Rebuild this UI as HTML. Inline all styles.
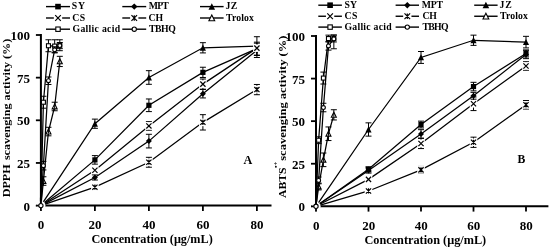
<!DOCTYPE html>
<html><head><meta charset="utf-8"><style>
html,body{margin:0;padding:0;background:#fff;width:550px;height:247px;overflow:hidden}
svg{display:block;filter:grayscale(1)}
.t{font-family:"Liberation Serif", serif;font-weight:bold;fill:#000}
</style></head><body>
<svg width="550" height="247" viewBox="0 0 550 247">
<rect width="550" height="247" fill="#fff"/>
<path d="M40.9 34V205.6H271.5" stroke="#000" stroke-width="2" fill="none"/>
<path d="M35.9 205.6H40.9" stroke="#000" stroke-width="1.8"/>
<text x="29.9" y="210.7" class="t" font-size="13" text-anchor="end">0</text>
<path d="M35.9 162.95H40.9" stroke="#000" stroke-width="1.8"/>
<text x="29.9" y="168.05" class="t" font-size="13" text-anchor="end">25</text>
<path d="M35.9 120.3H40.9" stroke="#000" stroke-width="1.8"/>
<text x="29.9" y="125.4" class="t" font-size="13" text-anchor="end">50</text>
<path d="M35.9 77.65H40.9" stroke="#000" stroke-width="1.8"/>
<text x="29.9" y="82.75" class="t" font-size="13" text-anchor="end">75</text>
<path d="M35.9 35H40.9" stroke="#000" stroke-width="1.8"/>
<text x="29.9" y="40.1" class="t" font-size="13" text-anchor="end">100</text>
<path d="M40.9 205.6V210.9" stroke="#000" stroke-width="1.8"/>
<text x="41.1" y="229.2" class="t" font-size="13" text-anchor="middle">0</text>
<path d="M94.9 205.6V210.9" stroke="#000" stroke-width="1.8"/>
<text x="95.1" y="229.2" class="t" font-size="13" text-anchor="middle">20</text>
<path d="M148.9 205.6V210.9" stroke="#000" stroke-width="1.8"/>
<text x="149.1" y="229.2" class="t" font-size="13" text-anchor="middle">40</text>
<path d="M202.9 205.6V210.9" stroke="#000" stroke-width="1.8"/>
<text x="203.1" y="229.2" class="t" font-size="13" text-anchor="middle">60</text>
<path d="M256.9 205.6V210.9" stroke="#000" stroke-width="1.8"/>
<text x="257.1" y="229.2" class="t" font-size="13" text-anchor="middle">80</text>
<path d="M40.9 205.6L94.9 159.88L148.9 105.29L202.9 72.36L256.9 48.65" stroke="#000" stroke-width="1.25" fill="none"/>
<path d="M94.9 155.61V164.14M91.9 155.61H97.9M91.9 164.14H97.9" stroke="#000" stroke-width="1" fill="none"/>
<path d="M148.9 98.97V111.6M145.9 98.97H151.9M145.9 111.6H151.9" stroke="#000" stroke-width="1" fill="none"/>
<path d="M202.9 67.24V77.48M199.9 67.24H205.9M199.9 77.48H205.9" stroke="#000" stroke-width="1" fill="none"/>
<path d="M256.9 42.17V55.13M253.9 42.17H259.9M253.9 55.13H259.9" stroke="#000" stroke-width="1" fill="none"/>
<rect x="92.3" y="157.28" width="5.2" height="5.2" fill="#000"/>
<rect x="146.3" y="102.69" width="5.2" height="5.2" fill="#000"/>
<rect x="200.3" y="69.76" width="5.2" height="5.2" fill="#000"/>
<rect x="254.3" y="46.05" width="5.2" height="5.2" fill="#000"/>
<path d="M40.9 205.6L94.9 177.45L148.9 141.11L202.9 93.69L256.9 50.35" stroke="#000" stroke-width="1.25" fill="none"/>
<path d="M94.9 174.89V180.01M91.9 174.89H97.9M91.9 180.01H97.9" stroke="#000" stroke-width="1" fill="none"/>
<path d="M148.9 134.29V147.94M145.9 134.29H151.9M145.9 147.94H151.9" stroke="#000" stroke-width="1" fill="none"/>
<path d="M202.9 89.42V97.95M199.9 89.42H205.9M199.9 97.95H205.9" stroke="#000" stroke-width="1" fill="none"/>
<path d="M256.9 43.19V57.52M253.9 43.19H259.9M253.9 57.52H259.9" stroke="#000" stroke-width="1" fill="none"/>
<path d="M94.9 174.46L97.89 177.45L94.9 180.44L91.91 177.45Z" fill="#000"/>
<path d="M148.9 138.12L151.89 141.11L148.9 144.1L145.91 141.11Z" fill="#000"/>
<path d="M202.9 90.7L205.89 93.69L202.9 96.68L199.91 93.69Z" fill="#000"/>
<path d="M256.9 47.36L259.89 50.35L256.9 53.34L253.91 50.35Z" fill="#000"/>
<path d="M40.9 205.6L94.9 123.71L148.9 77.48L202.9 47.79L256.9 46.09" stroke="#000" stroke-width="1.25" fill="none"/>
<path d="M94.9 119.11V128.32M91.9 119.11H97.9M91.9 128.32H97.9" stroke="#000" stroke-width="1" fill="none"/>
<path d="M148.9 70.66V84.3M145.9 70.66H151.9M145.9 84.3H151.9" stroke="#000" stroke-width="1" fill="none"/>
<path d="M202.9 42.68V52.91M199.9 42.68H205.9M199.9 52.91H205.9" stroke="#000" stroke-width="1" fill="none"/>
<path d="M256.9 36.71V55.47M253.9 36.71H259.9M253.9 55.47H259.9" stroke="#000" stroke-width="1" fill="none"/>
<path d="M94.9 120.49L97.97 126.63L91.83 126.63Z" fill="#000"/>
<path d="M148.9 74.26L151.97 80.39L145.83 80.39Z" fill="#000"/>
<path d="M202.9 44.57L205.97 50.71L199.83 50.71Z" fill="#000"/>
<path d="M256.9 42.87L259.97 49L253.83 49Z" fill="#000"/>
<path d="M40.9 205.6L94.9 170.29L148.9 125.93L202.9 84.13L256.9 48.14" stroke="#000" stroke-width="1.25" fill="none"/>
<path d="M94.9 167.73V172.84M91.9 167.73H97.9M91.9 172.84H97.9" stroke="#000" stroke-width="1" fill="none"/>
<path d="M148.9 121.66V130.19M145.9 121.66H151.9M145.9 130.19H151.9" stroke="#000" stroke-width="1" fill="none"/>
<path d="M202.9 79.01V89.25M199.9 79.01H205.9M199.9 89.25H205.9" stroke="#000" stroke-width="1" fill="none"/>
<rect x="91.1" y="166.49" width="7.6" height="7.6" fill="#fff"/>
<rect x="145.1" y="122.13" width="7.6" height="7.6" fill="#fff"/>
<rect x="199.1" y="80.33" width="7.6" height="7.6" fill="#fff"/>
<rect x="253.1" y="44.34" width="7.6" height="7.6" fill="#fff"/>
<path d="M92.3 167.69L97.5 172.89M97.5 167.69L92.3 172.89" stroke="#000" stroke-width="1.2" fill="none"/>
<path d="M146.3 123.33L151.5 128.53M151.5 123.33L146.3 128.53" stroke="#000" stroke-width="1.2" fill="none"/>
<path d="M200.3 81.53L205.5 86.73M205.5 81.53L200.3 86.73" stroke="#000" stroke-width="1.2" fill="none"/>
<path d="M254.3 45.54L259.5 50.74M259.5 45.54L254.3 50.74" stroke="#000" stroke-width="1.2" fill="none"/>
<path d="M40.9 205.6L94.9 187.18L148.9 162.27L202.9 122.35L256.9 89.59" stroke="#000" stroke-width="1.25" fill="none"/>
<path d="M94.9 184.62V189.73M91.9 184.62H97.9M91.9 189.73H97.9" stroke="#000" stroke-width="1" fill="none"/>
<path d="M148.9 157.32V167.22M145.9 157.32H151.9M145.9 167.22H151.9" stroke="#000" stroke-width="1" fill="none"/>
<path d="M202.9 114.67V130.02M199.9 114.67H205.9M199.9 130.02H205.9" stroke="#000" stroke-width="1" fill="none"/>
<path d="M256.9 84.47V94.71M253.9 84.47H259.9M253.9 94.71H259.9" stroke="#000" stroke-width="1" fill="none"/>
<rect x="91.1" y="183.38" width="7.6" height="7.6" fill="#fff"/>
<rect x="145.1" y="158.47" width="7.6" height="7.6" fill="#fff"/>
<rect x="199.1" y="118.55" width="7.6" height="7.6" fill="#fff"/>
<rect x="253.1" y="85.79" width="7.6" height="7.6" fill="#fff"/>
<path d="M92.3 184.58L97.5 189.78M97.5 184.58L92.3 189.78M94.9 184.58L94.9 189.78" stroke="#000" stroke-width="1.2" fill="none"/>
<path d="M146.3 159.67L151.5 164.87M151.5 159.67L146.3 164.87M148.9 159.67L148.9 164.87" stroke="#000" stroke-width="1.2" fill="none"/>
<path d="M200.3 119.75L205.5 124.95M205.5 119.75L200.3 124.95M202.9 119.75L202.9 124.95" stroke="#000" stroke-width="1.2" fill="none"/>
<path d="M254.3 86.99L259.5 92.19M259.5 86.99L254.3 92.19M256.9 86.99L256.9 92.19" stroke="#000" stroke-width="1.2" fill="none"/>
<path d="M40.9 205.6L43.41 181.03L48.46 131.56L54.67 106.48L59.8 61.44" stroke="#000" stroke-width="1.25" fill="none"/>
<path d="M43.41 176.77V185.3M40.41 176.77H46.41M40.41 185.3H46.41" stroke="#000" stroke-width="1" fill="none"/>
<path d="M48.46 127.29V135.82M45.46 127.29H51.46M45.46 135.82H51.46" stroke="#000" stroke-width="1" fill="none"/>
<path d="M54.67 102.22V110.75M51.67 102.22H57.67M51.67 110.75H57.67" stroke="#000" stroke-width="1" fill="none"/>
<path d="M59.8 56.32V66.56M56.8 56.32H62.8M56.8 66.56H62.8" stroke="#000" stroke-width="1" fill="none"/>
<path d="M43.41 178.42L45.9 183.4L40.92 183.4Z" fill="#fff" stroke="#000" stroke-width="1.1" stroke-linejoin="miter"/>
<path d="M48.46 128.94L50.95 133.93L45.97 133.93Z" fill="#fff" stroke="#000" stroke-width="1.1" stroke-linejoin="miter"/>
<path d="M54.67 103.87L57.16 108.85L52.18 108.85Z" fill="#fff" stroke="#000" stroke-width="1.1" stroke-linejoin="miter"/>
<path d="M59.8 58.83L62.29 63.81L57.31 63.81Z" fill="#fff" stroke="#000" stroke-width="1.1" stroke-linejoin="miter"/>
<path d="M43.41 179.03V183.03" stroke="#000" stroke-width="1"/>
<path d="M48.46 129.56V133.56" stroke="#000" stroke-width="1"/>
<path d="M54.67 104.48V108.48" stroke="#000" stroke-width="1"/>
<path d="M59.8 59.44V63.44" stroke="#000" stroke-width="1"/>
<path d="M40.9 205.6L43.41 102.22L48.46 45.75L54.67 46.09L59.8 45.24" stroke="#000" stroke-width="1.25" fill="none"/>
<path d="M43.41 96.25V108.19M40.41 96.25H46.41M40.41 108.19H46.41" stroke="#000" stroke-width="1" fill="none"/>
<path d="M48.46 39.78V51.72M45.46 39.78H51.46M45.46 51.72H51.46" stroke="#000" stroke-width="1" fill="none"/>
<path d="M54.67 39.78V52.4M51.67 39.78H57.67M51.67 52.4H57.67" stroke="#000" stroke-width="1" fill="none"/>
<path d="M59.8 39.78V50.7M56.8 39.78H62.8M56.8 50.7H62.8" stroke="#000" stroke-width="1" fill="none"/>
<rect x="41.41" y="100.22" width="4" height="4" fill="#fff" stroke="#000" stroke-width="1.1"/>
<rect x="46.46" y="43.75" width="4" height="4" fill="#fff" stroke="#000" stroke-width="1.1"/>
<rect x="52.67" y="44.09" width="4" height="4" fill="#fff" stroke="#000" stroke-width="1.1"/>
<rect x="57.8" y="43.24" width="4" height="4" fill="#fff" stroke="#000" stroke-width="1.1"/>
<path d="M40.9 205.6L43.41 165.68L48.46 80.72L54.67 49.84L59.8 45.58" stroke="#000" stroke-width="1.25" fill="none"/>
<path d="M43.41 161.41V169.94M40.41 161.41H46.41M40.41 169.94H46.41" stroke="#000" stroke-width="1" fill="none"/>
<path d="M48.46 76.97V84.47M45.46 76.97H51.46M45.46 84.47H51.46" stroke="#000" stroke-width="1" fill="none"/>
<path d="M54.67 46.77V52.91M51.67 46.77H57.67M51.67 52.91H57.67" stroke="#000" stroke-width="1" fill="none"/>
<path d="M59.8 42.51V48.65M56.8 42.51H62.8M56.8 48.65H62.8" stroke="#000" stroke-width="1" fill="none"/>
<circle cx="43.41" cy="165.68" r="1.95" fill="#fff" stroke="#000" stroke-width="1.1"/>
<circle cx="48.46" cy="80.72" r="1.95" fill="#fff" stroke="#000" stroke-width="1.1"/>
<circle cx="54.67" cy="49.84" r="1.95" fill="#fff" stroke="#000" stroke-width="1.1"/>
<circle cx="59.8" cy="45.58" r="1.95" fill="#fff" stroke="#000" stroke-width="1.1"/>
<circle cx="40.9" cy="205.6" r="4.6" fill="#fff"/>
<path d="M40.9 197.6V203.6" stroke="#000" stroke-width="2"/>
<path d="M35.9 205.6H38.9M40.9 207.6V210.6" stroke="#000" stroke-width="1.8"/>
<circle cx="40.9" cy="205.6" r="2.15" fill="#fff" stroke="#000" stroke-width="1.1"/>
<path d="M46 6.6H70" stroke="#000" stroke-width="1.4"/>
<rect x="55.2" y="3.8" width="5.6" height="5.6" fill="#000"/>
<text transform="scale(0.95 1)" x="75.47" y="9.3" class="t" font-size="10.3" textLength="13.95" lengthAdjust="spacing">SY</text>
<path d="M122.3 6.6H146.2" stroke="#000" stroke-width="1.4"/>
<path d="M134.25 3.38L137.47 6.6L134.25 9.82L131.03 6.6Z" fill="#000"/>
<text transform="scale(0.95 1)" x="156.63" y="9.3" class="t" font-size="10.3" textLength="21.05" lengthAdjust="spacing">MPT</text>
<path d="M200 6.6H223.6" stroke="#000" stroke-width="1.4"/>
<path d="M211.8 3.13L215.1 9.74L208.5 9.74Z" fill="#000"/>
<text transform="scale(0.95 1)" x="237.47" y="9.3" class="t" font-size="10.3" textLength="12.32" lengthAdjust="spacing">JZ</text>
<path d="M46 18H70" stroke="#000" stroke-width="1.4"/>
<rect x="53.85" y="16.5" width="8.3" height="3" fill="#fff"/>
<path d="M55.2 15.2L60.8 20.8M60.8 15.2L55.2 20.8" stroke="#000" stroke-width="1.2" fill="none"/>
<text transform="scale(0.95 1)" x="76" y="20.7" class="t" font-size="10.3" textLength="13.68" lengthAdjust="spacing">CS</text>
<path d="M122.3 18H146.2" stroke="#000" stroke-width="1.4"/>
<rect x="130.1" y="16.5" width="8.3" height="3" fill="#fff"/>
<path d="M131.45 15.2L137.05 20.8M137.05 15.2L131.45 20.8M134.25 15.2L134.25 20.8" stroke="#000" stroke-width="1.2" fill="none"/>
<text transform="scale(0.95 1)" x="156.42" y="20.7" class="t" font-size="10.3" textLength="15.37" lengthAdjust="spacing">CH</text>
<path d="M200 18H223.6" stroke="#000" stroke-width="1.4"/>
<path d="M211.8 14.95L214.7 20.76L208.9 20.76Z" fill="#fff" stroke="#000" stroke-width="1.1" stroke-linejoin="miter"/>
<text transform="scale(0.95 1)" x="238" y="20.7" class="t" font-size="10.3" textLength="29.16" lengthAdjust="spacing">Trolox</text>
<path d="M46 29.2H70" stroke="#000" stroke-width="1.4"/>
<rect x="55.8" y="27" width="4.4" height="4.4" fill="#fff" stroke="#000" stroke-width="1.1"/>
<text transform="scale(0.95 1)" x="76.32" y="31.9" class="t" font-size="10.3" textLength="50.21" lengthAdjust="spacing">Gallic acid</text>
<path d="M122.3 29.2H146.2" stroke="#000" stroke-width="1.4"/>
<circle cx="134.25" cy="29.2" r="2.15" fill="#fff" stroke="#000" stroke-width="1.1"/>
<text transform="scale(0.95 1)" x="156.84" y="31.9" class="t" font-size="10.3" textLength="28.21" lengthAdjust="spacing">TBHQ</text>
<path d="M316 35V206.3H548.4" stroke="#000" stroke-width="2" fill="none"/>
<path d="M311 206.3H316" stroke="#000" stroke-width="1.8"/>
<text x="304.9" y="211.4" class="t" font-size="13" text-anchor="end">0</text>
<path d="M311 163.73H316" stroke="#000" stroke-width="1.8"/>
<text x="304.9" y="168.83" class="t" font-size="13" text-anchor="end">25</text>
<path d="M311 121.15H316" stroke="#000" stroke-width="1.8"/>
<text x="304.9" y="126.25" class="t" font-size="13" text-anchor="end">50</text>
<path d="M311 78.58H316" stroke="#000" stroke-width="1.8"/>
<text x="304.9" y="83.67" class="t" font-size="13" text-anchor="end">75</text>
<path d="M311 36H316" stroke="#000" stroke-width="1.8"/>
<text x="304.9" y="41.1" class="t" font-size="13" text-anchor="end">100</text>
<path d="M316 206.3V211.6" stroke="#000" stroke-width="1.8"/>
<text x="316.2" y="230.1" class="t" font-size="13" text-anchor="middle">0</text>
<path d="M368.5 206.3V211.6" stroke="#000" stroke-width="1.8"/>
<text x="368.7" y="230.1" class="t" font-size="13" text-anchor="middle">20</text>
<path d="M421 206.3V211.6" stroke="#000" stroke-width="1.8"/>
<text x="421.2" y="230.1" class="t" font-size="13" text-anchor="middle">40</text>
<path d="M473.5 206.3V211.6" stroke="#000" stroke-width="1.8"/>
<text x="473.7" y="230.1" class="t" font-size="13" text-anchor="middle">60</text>
<path d="M526 206.3V211.6" stroke="#000" stroke-width="1.8"/>
<text x="526.2" y="230.1" class="t" font-size="13" text-anchor="middle">80</text>
<path d="M316 206.3L368.5 169.34L421 124.56L473.5 86.58L526 53.54" stroke="#000" stroke-width="1.25" fill="none"/>
<path d="M368.5 166.79V171.9M365.5 166.79H371.5M365.5 171.9H371.5" stroke="#000" stroke-width="1" fill="none"/>
<path d="M421 121.15V127.96M418 121.15H424M418 127.96H424" stroke="#000" stroke-width="1" fill="none"/>
<path d="M473.5 82.32V90.84M470.5 82.32H476.5M470.5 90.84H476.5" stroke="#000" stroke-width="1" fill="none"/>
<path d="M526 50.13V56.95M523 50.13H529M523 56.95H529" stroke="#000" stroke-width="1" fill="none"/>
<rect x="365.9" y="166.74" width="5.2" height="5.2" fill="#000"/>
<rect x="418.4" y="121.96" width="5.2" height="5.2" fill="#000"/>
<rect x="470.9" y="83.98" width="5.2" height="5.2" fill="#000"/>
<rect x="523.4" y="50.94" width="5.2" height="5.2" fill="#000"/>
<path d="M316 206.3L368.5 170.54L421 133.92L473.5 95.78L526 54.39" stroke="#000" stroke-width="1.25" fill="none"/>
<path d="M368.5 167.98V173.09M365.5 167.98H371.5M365.5 173.09H371.5" stroke="#000" stroke-width="1" fill="none"/>
<path d="M421 129.67V138.18M418 129.67H424M418 138.18H424" stroke="#000" stroke-width="1" fill="none"/>
<path d="M473.5 92.37V99.18M470.5 92.37H476.5M470.5 99.18H476.5" stroke="#000" stroke-width="1" fill="none"/>
<path d="M526 50.13V58.65M523 50.13H529M523 58.65H529" stroke="#000" stroke-width="1" fill="none"/>
<path d="M368.5 167.55L371.49 170.54L368.5 173.53L365.51 170.54Z" fill="#000"/>
<path d="M421 130.93L423.99 133.92L421 136.91L418.01 133.92Z" fill="#000"/>
<path d="M473.5 92.79L476.49 95.78L473.5 98.77L470.51 95.78Z" fill="#000"/>
<path d="M526 51.4L528.99 54.39L526 57.38L523.01 54.39Z" fill="#000"/>
<path d="M316 206.3L368.5 129.49L421 57.46L473.5 40.26L526 42.13" stroke="#000" stroke-width="1.25" fill="none"/>
<path d="M368.5 122.85V136.14M365.5 122.85H371.5M365.5 136.14H371.5" stroke="#000" stroke-width="1" fill="none"/>
<path d="M421 51.5V63.42M418 51.5H424M418 63.42H424" stroke="#000" stroke-width="1" fill="none"/>
<path d="M473.5 35.15V45.37M470.5 35.15H476.5M470.5 45.37H476.5" stroke="#000" stroke-width="1" fill="none"/>
<path d="M526 36.34V47.92M523 36.34H529M523 47.92H529" stroke="#000" stroke-width="1" fill="none"/>
<path d="M368.5 126.27L371.57 132.41L365.43 132.41Z" fill="#000"/>
<path d="M421 54.24L424.07 60.37L417.93 60.37Z" fill="#000"/>
<path d="M473.5 37.04L476.57 43.17L470.43 43.17Z" fill="#000"/>
<path d="M526 38.91L529.07 45.05L522.93 45.05Z" fill="#000"/>
<path d="M316 206.3L368.5 179.39L421 143.46L473.5 103.78L526 65.97" stroke="#000" stroke-width="1.25" fill="none"/>
<path d="M368.5 176.84V181.95M365.5 176.84H371.5M365.5 181.95H371.5" stroke="#000" stroke-width="1" fill="none"/>
<path d="M421 138.35V148.57M418 138.35H424M418 148.57H424" stroke="#000" stroke-width="1" fill="none"/>
<path d="M473.5 96.97V110.59M470.5 96.97H476.5M470.5 110.59H476.5" stroke="#000" stroke-width="1" fill="none"/>
<path d="M526 61.72V70.23M523 61.72H529M523 70.23H529" stroke="#000" stroke-width="1" fill="none"/>
<rect x="364.7" y="175.59" width="7.6" height="7.6" fill="#fff"/>
<rect x="417.2" y="139.66" width="7.6" height="7.6" fill="#fff"/>
<rect x="469.7" y="99.98" width="7.6" height="7.6" fill="#fff"/>
<rect x="522.2" y="62.17" width="7.6" height="7.6" fill="#fff"/>
<path d="M365.9 176.79L371.1 181.99M371.1 176.79L365.9 181.99" stroke="#000" stroke-width="1.2" fill="none"/>
<path d="M418.4 140.86L423.6 146.06M423.6 140.86L418.4 146.06" stroke="#000" stroke-width="1.2" fill="none"/>
<path d="M470.9 101.18L476.1 106.38M476.1 101.18L470.9 106.38" stroke="#000" stroke-width="1.2" fill="none"/>
<path d="M523.4 63.37L528.6 68.57M528.6 63.37L523.4 68.57" stroke="#000" stroke-width="1.2" fill="none"/>
<path d="M316 206.3L368.5 190.97L421 169.86L473.5 142.27L526 104.8" stroke="#000" stroke-width="1.25" fill="none"/>
<path d="M368.5 188.42V193.53M365.5 188.42H371.5M365.5 193.53H371.5" stroke="#000" stroke-width="1" fill="none"/>
<path d="M421 166.45V173.26M418 166.45H424M418 173.26H424" stroke="#000" stroke-width="1" fill="none"/>
<path d="M473.5 137.16V147.38M470.5 137.16H476.5M470.5 147.38H476.5" stroke="#000" stroke-width="1" fill="none"/>
<path d="M526 100.54V109.06M523 100.54H529M523 109.06H529" stroke="#000" stroke-width="1" fill="none"/>
<rect x="364.7" y="187.17" width="7.6" height="7.6" fill="#fff"/>
<rect x="417.2" y="166.06" width="7.6" height="7.6" fill="#fff"/>
<rect x="469.7" y="138.47" width="7.6" height="7.6" fill="#fff"/>
<rect x="522.2" y="101" width="7.6" height="7.6" fill="#fff"/>
<path d="M365.9 188.37L371.1 193.57M371.1 188.37L365.9 193.57M368.5 188.37L368.5 193.57" stroke="#000" stroke-width="1.2" fill="none"/>
<path d="M418.4 167.26L423.6 172.46M423.6 167.26L418.4 172.46M421 167.26L421 172.46" stroke="#000" stroke-width="1.2" fill="none"/>
<path d="M470.9 139.67L476.1 144.87M476.1 139.67L470.9 144.87M473.5 139.67L473.5 144.87" stroke="#000" stroke-width="1.2" fill="none"/>
<path d="M523.4 102.2L528.6 107.4M528.6 102.2L523.4 107.4M526 102.2L526 107.4" stroke="#000" stroke-width="1.2" fill="none"/>
<path d="M316 206.3L318.62 186.55L323.4 159.81L328.47 133.75L333.85 114.85" stroke="#000" stroke-width="1.25" fill="none"/>
<path d="M318.62 183.14V189.95M315.62 183.14H321.62M315.62 189.95H321.62" stroke="#000" stroke-width="1" fill="none"/>
<path d="M323.4 153V166.62M320.4 153H326.4M320.4 166.62H326.4" stroke="#000" stroke-width="1" fill="none"/>
<path d="M328.47 126.94V140.56M325.47 126.94H331.47M325.47 140.56H331.47" stroke="#000" stroke-width="1" fill="none"/>
<path d="M333.85 109.74V119.96M330.85 109.74H336.85M330.85 119.96H336.85" stroke="#000" stroke-width="1" fill="none"/>
<path d="M318.62 183.93L321.12 188.91L316.13 188.91Z" fill="#fff" stroke="#000" stroke-width="1.1" stroke-linejoin="miter"/>
<path d="M323.4 157.19L325.89 162.17L320.91 162.17Z" fill="#fff" stroke="#000" stroke-width="1.1" stroke-linejoin="miter"/>
<path d="M328.47 131.14L330.96 136.12L325.98 136.12Z" fill="#fff" stroke="#000" stroke-width="1.1" stroke-linejoin="miter"/>
<path d="M333.85 112.23L336.34 117.22L331.36 117.22Z" fill="#fff" stroke="#000" stroke-width="1.1" stroke-linejoin="miter"/>
<path d="M318.62 184.55V188.55" stroke="#000" stroke-width="1"/>
<path d="M323.4 157.81V161.81" stroke="#000" stroke-width="1"/>
<path d="M328.47 131.75V135.75" stroke="#000" stroke-width="1"/>
<path d="M333.85 112.85V116.85" stroke="#000" stroke-width="1"/>
<path d="M316 206.3L318.62 140.22L323.4 78.06L328.47 38.55L333.85 38.55" stroke="#000" stroke-width="1.25" fill="none"/>
<path d="M318.62 136.82V143.63M315.62 136.82H321.62M315.62 143.63H321.62" stroke="#000" stroke-width="1" fill="none"/>
<path d="M323.4 72.1V84.02M320.4 72.1H326.4M320.4 84.02H326.4" stroke="#000" stroke-width="1" fill="none"/>
<path d="M328.47 35.15V41.96M325.47 35.15H331.47M325.47 41.96H331.47" stroke="#000" stroke-width="1" fill="none"/>
<path d="M333.85 35.15V41.96M330.85 35.15H336.85M330.85 41.96H336.85" stroke="#000" stroke-width="1" fill="none"/>
<rect x="316.62" y="138.22" width="4" height="4" fill="#fff" stroke="#000" stroke-width="1.1"/>
<rect x="321.4" y="76.06" width="4" height="4" fill="#fff" stroke="#000" stroke-width="1.1"/>
<rect x="326.47" y="36.55" width="4" height="4" fill="#fff" stroke="#000" stroke-width="1.1"/>
<rect x="331.85" y="36.55" width="4" height="4" fill="#fff" stroke="#000" stroke-width="1.1"/>
<path d="M316 206.3L318.62 180.41L323.4 107.53L328.47 45.88L333.85 38.9" stroke="#000" stroke-width="1.25" fill="none"/>
<path d="M318.62 177.01V183.82M315.62 177.01H321.62M315.62 183.82H321.62" stroke="#000" stroke-width="1" fill="none"/>
<path d="M323.4 103.27V111.78M320.4 103.27H326.4M320.4 111.78H326.4" stroke="#000" stroke-width="1" fill="none"/>
<path d="M328.47 41.62V50.13M325.47 41.62H331.47M325.47 50.13H331.47" stroke="#000" stroke-width="1" fill="none"/>
<path d="M333.85 34.98V48.77M330.85 34.98H336.85M330.85 48.77H336.85" stroke="#000" stroke-width="1" fill="none"/>
<circle cx="318.62" cy="180.41" r="1.95" fill="#fff" stroke="#000" stroke-width="1.1"/>
<circle cx="323.4" cy="107.53" r="1.95" fill="#fff" stroke="#000" stroke-width="1.1"/>
<circle cx="328.47" cy="45.88" r="1.95" fill="#fff" stroke="#000" stroke-width="1.1"/>
<circle cx="333.85" cy="38.9" r="1.95" fill="#fff" stroke="#000" stroke-width="1.1"/>
<circle cx="316" cy="206.3" r="4.6" fill="#fff"/>
<path d="M316 198.3V204.3" stroke="#000" stroke-width="2"/>
<path d="M311 206.3H314M316 208.3V211.3" stroke="#000" stroke-width="1.8"/>
<circle cx="316" cy="206.3" r="2.15" fill="#fff" stroke="#000" stroke-width="1.1"/>
<path d="M318.3 5.2H341.9" stroke="#000" stroke-width="1.4"/>
<rect x="327.3" y="2.4" width="5.6" height="5.6" fill="#000"/>
<text transform="scale(0.95 1)" x="362.63" y="7.9" class="t" font-size="10.3" textLength="13.26" lengthAdjust="spacing">SY</text>
<path d="M395.6 5.2H419" stroke="#000" stroke-width="1.4"/>
<path d="M407.3 1.98L410.52 5.2L407.3 8.42L404.08 5.2Z" fill="#000"/>
<text transform="scale(0.95 1)" x="444" y="7.9" class="t" font-size="10.3" textLength="22.32" lengthAdjust="spacing">MPT</text>
<path d="M474.2 5.2H497.6" stroke="#000" stroke-width="1.4"/>
<path d="M485.9 1.73L489.2 8.34L482.6 8.34Z" fill="#000"/>
<text transform="scale(0.95 1)" x="525.89" y="7.9" class="t" font-size="10.3" textLength="12.74" lengthAdjust="spacing">JZ</text>
<path d="M318.3 16.25H341.9" stroke="#000" stroke-width="1.4"/>
<rect x="325.95" y="14.75" width="8.3" height="3" fill="#fff"/>
<path d="M327.3 13.45L332.9 19.05M332.9 13.45L327.3 19.05" stroke="#000" stroke-width="1.2" fill="none"/>
<text transform="scale(0.95 1)" x="362.63" y="18.95" class="t" font-size="10.3" textLength="13.58" lengthAdjust="spacing">CS</text>
<path d="M395.6 16.25H419" stroke="#000" stroke-width="1.4"/>
<rect x="403.15" y="14.75" width="8.3" height="3" fill="#fff"/>
<path d="M404.5 13.45L410.1 19.05M410.1 13.45L404.5 19.05M407.3 13.45L407.3 19.05" stroke="#000" stroke-width="1.2" fill="none"/>
<text transform="scale(0.95 1)" x="444.74" y="18.95" class="t" font-size="10.3" textLength="15.05" lengthAdjust="spacing">CH</text>
<path d="M474.2 16.25H497.6" stroke="#000" stroke-width="1.4"/>
<path d="M485.9 13.2L488.8 19.01L483 19.01Z" fill="#fff" stroke="#000" stroke-width="1.1" stroke-linejoin="miter"/>
<text transform="scale(0.95 1)" x="526.42" y="18.95" class="t" font-size="10.3" textLength="29.16" lengthAdjust="spacing">Trolox</text>
<path d="M318.3 27.1H341.9" stroke="#000" stroke-width="1.4"/>
<rect x="327.9" y="24.9" width="4.4" height="4.4" fill="#fff" stroke="#000" stroke-width="1.1"/>
<text transform="scale(0.95 1)" x="362.63" y="29.8" class="t" font-size="10.3" textLength="49.58" lengthAdjust="spacing">Gallic acid</text>
<path d="M395.6 27.1H419" stroke="#000" stroke-width="1.4"/>
<circle cx="407.3" cy="27.1" r="2.15" fill="#fff" stroke="#000" stroke-width="1.1"/>
<text transform="scale(0.95 1)" x="444.74" y="29.8" class="t" font-size="10.3" textLength="27.37" lengthAdjust="spacing">TBHQ</text>
<text x="243.4" y="163.6" class="t" font-size="13.2" textLength="8.8" lengthAdjust="spacingAndGlyphs">A</text>
<text x="517.6" y="163.4" class="t" font-size="12.6" textLength="7.8" lengthAdjust="spacingAndGlyphs">B</text>
<text x="91.5" y="243.1" class="t" font-size="12" textLength="121.2" lengthAdjust="spacingAndGlyphs">Concentration (μg/mL)</text>
<text x="364.4" y="243.7" class="t" font-size="12" textLength="121.8" lengthAdjust="spacingAndGlyphs">Concentration (μg/mL)</text>
<text transform="translate(9.9 197.3) rotate(-90)" class="t" font-size="11" textLength="33" lengthAdjust="spacingAndGlyphs">DPPH</text>
<text transform="translate(9.9 160.1) rotate(-90)" class="t" font-size="11" textLength="121.3" lengthAdjust="spacingAndGlyphs">scavenging activity (%)</text>
<text transform="translate(285.6 197.9) rotate(-90)" class="t" font-size="11.3" textLength="30.5" lengthAdjust="spacingAndGlyphs">ABTS</text>
<text transform="translate(277.9 168) rotate(-90)" class="t" font-size="7">•+</text>
<text transform="translate(286 160.8) rotate(-90)" class="t" font-size="11" textLength="125.2" lengthAdjust="spacingAndGlyphs">scavenging activity (%)</text>
</svg>
</body></html>
